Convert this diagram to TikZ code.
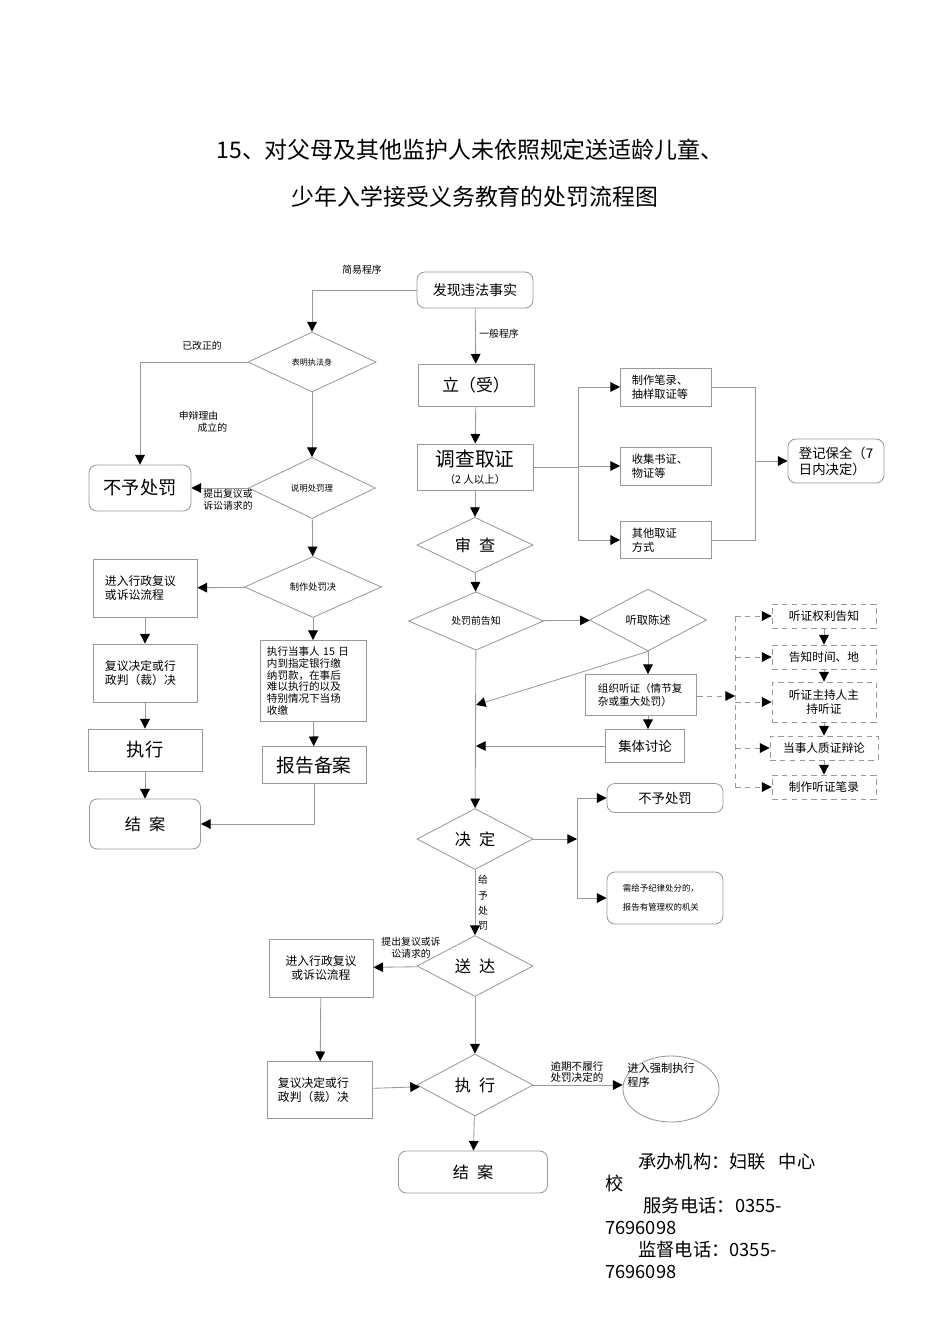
\documentclass[tikz,border=0pt]{standalone}
\usepackage{fontspec}
\setmainfont{Noto Sans CJK SC}
\usetikzlibrary{shapes.geometric,arrows.meta,positioning,calc}

\begin{document}
\begin{tikzpicture}[
    x=0.025cm, y=-0.025cm,
    line/.style={draw=black!40, line width=0.6pt},
    arrow/.style={line, -{Triangle[length=2.4mm, width=2.4mm, color=black]}},
    dasharrow/.style={arrow, dash pattern=on 4pt off 3pt},
    block/.style={line, inner sep=1pt, align=center},
    rblock/.style={block, rounded corners=2mm},
    dblock/.style={block, dash pattern=on 4pt off 3pt, minimum width=2.6cm, minimum height=0.6cm, font=\fontsize{8.3}{10}\selectfont},
    decision/.style={diamond, line, inner sep=0pt, align=center},
    note/.style={inner sep=0pt, align=center, font=\fontsize{7}{8.5}\selectfont},
]
    \useasboundingbox (0,0) rectangle (950,1344);

    % Title
    \node[font=\fontsize{16.3}{20}\selectfont] (title1) at (470,150) {15、对父母及其他监护人未依照规定送适龄儿童、};
    \node[font=\fontsize{16.3}{20}\selectfont] (title2) at (475,197) {少年入学接受义务教育的处罚流程图};

    % Start
    \node[rblock, minimum width=2.9cm, minimum height=0.9cm, font=\fontsize{10}{12}\selectfont] (faxian) at (475,290) {发现违法事实};
    \node[note] (jianyi) at (362,270) {简易程序};
    \node[note] (yiban) at (499,334) {一般程序};

    % General procedure
    \node[block, minimum width=2.9cm, minimum height=1.05cm, font=\fontsize{12}{14}\selectfont] (lian) at (476,385) {立（受）};
    \node[block, minimum width=2.9cm, minimum height=1.15cm, font=\fontsize{14}{15}\selectfont] (diaocha) at (475,467) {调查取证\\[-3pt]{\fontsize{7.5}{9}\selectfont（2 人以上）}};

    % Evidence
    \node[block, align=left, text width=1.7cm, minimum width=2.275cm, minimum height=0.95cm, font=\fontsize{8}{10}\selectfont] (bilu) at (666,387) {制作笔录、\\抽样取证等};
    \node[block, align=left, text width=1.7cm, minimum width=2.275cm, minimum height=0.95cm, font=\fontsize{8}{10}\selectfont] (shuzheng) at (666,466) {收集书证、\\物证等};
    \node[block, align=left, text width=1.7cm, minimum width=2.275cm, minimum height=0.925cm, font=\fontsize{8}{10}\selectfont] (qita) at (666,540) {其他取证\\方式};
    \node[rblock, align=left, text width=1.85cm, minimum width=2.4cm, minimum height=1.1cm, font=\fontsize{9.5}{11.5}\selectfont] (baoquan) at (836,461) {登记保全（7\\日内决定）};

    % Review and notice
    \node[decision, minimum width=2.9cm, minimum height=1.3cm, font=\fontsize{11.5}{13}\selectfont] (shencha) at (475,545) {审\hspace{0.5em}查};
    \node[decision, minimum width=3.375cm, minimum height=1.275cm, font=\fontsize{7}{8.5}\selectfont] (gaozhi) at (476,621) {处罚前告知};
    \node[decision, minimum width=2.925cm, minimum height=1.55cm, font=\fontsize{8}{10}\selectfont] (chenshu) at (648,620) {听取陈述};
    \node[block, align=left, text width=2.15cm, minimum width=2.775cm, minimum height=1.025cm, font=\fontsize{7.5}{8.8}\selectfont] (tingzheng) at (641,695) {组织听证（情节复\\杂或重大处罚）};
    \node[block, minimum width=1.975cm, minimum height=0.825cm, font=\fontsize{9.5}{11}\selectfont] (taolun) at (645,746) {集体讨论};

    % Hearing steps
    \node[dblock] (quanli) at (824,616) {听证权利告知};
    \node[dblock] (shijian) at (824,657) {告知时间、地};
    \node[dblock, minimum height=1cm] (zhuchi) at (824,702) {听证主持人主\\持听证};
    \node[dblock, minimum width=2.7cm] (bianlun) at (824,748) {当事人质证辩论};
    \node[dblock] (zhibilu) at (824,787) {制作听证笔录};

    % Decision
    \node[decision, minimum width=2.9cm, minimum height=1.525cm, font=\fontsize{11.5}{13}\selectfont] (jueding) at (475,839) {决\hspace{0.5em}定};
    \node[rblock, minimum width=2.9cm, minimum height=0.725cm, font=\fontsize{9.5}{11}\selectfont] (buyu2) at (665,798) {不予处罚};
    \node[rblock, align=left, text width=2.1cm, minimum width=2.9cm, minimum height=1.3cm, font=\fontsize{6}{13.5}\selectfont] (jilv) at (665,898) {需给予纪律处分的，\\报告有管理权的机关};
    \node[note, font=\fontsize{7}{11}\selectfont] (geiyu) at (483,903) {给\\予\\处\\罚};

    % Delivery and execution
    \node[decision, minimum width=2.9cm, minimum height=1.525cm, font=\fontsize{11.5}{13}\selectfont] (songda) at (475,966) {送\hspace{0.5em}达};
    \node[block, minimum width=2.6cm, minimum height=1.45cm, font=\fontsize{8.4}{10}\selectfont] (fuyi2) at (321,968) {进入行政复议\\或诉讼流程};
    \node[note] (tichu2) at (411,948) {提出复议或诉\\讼请求的};
    \node[block, align=left, text width=2.1cm, minimum width=2.625cm, minimum height=1.425cm, font=\fontsize{8.4}{10.5}\selectfont] (fuyijd2) at (320,1090) {复议决定或行\\政判（裁）决};
    \node[decision, minimum width=2.9cm, minimum height=1.55cm, font=\fontsize{11.5}{13}\selectfont] (zhixing2) at (475,1085) {执\hspace{0.5em}行};
    \node[note, font=\fontsize{7.5}{8}\selectfont] (yuqi) at (577,1072) {逾期不履行\\处罚决定的};
    \node[ellipse, line, minimum width=2.4cm, minimum height=1.65cm] (qiangzhi) at (671,1089) {};
    \node[inner sep=0pt, anchor=north west, align=left, font=\fontsize{8}{10}\selectfont] (qztext) at (627,1063) {进入强制执行\\程序};
    \node[rblock, minimum width=3.725cm, minimum height=1.05cm, font=\fontsize{11.5}{13}\selectfont] (jiean2) at (473,1172) {结\hspace{0.5em}案};

    % Simple procedure
    \node[decision, minimum width=3.2cm, minimum height=1.5cm, font=\fontsize{5.7}{7}\selectfont] (biaoming) at (312,362) {表明执法身};
    \node[decision, minimum width=3.175cm, minimum height=1.525cm, font=\fontsize{6}{7}\selectfont] (shuoming) at (312,488) {说明处罚理};
    \node[decision, minimum width=3.425cm, minimum height=1.525cm, font=\fontsize{6.6}{8}\selectfont] (zhizuo) at (313,587) {制作处罚决};
    \node[rblock, minimum width=2.55cm, minimum height=1.15cm, font=\fontsize{13}{15}\selectfont] (buyu1) at (140,488) {不予处罚};
    \node[note] (gaizheng) at (202,346) {已改正的};
    \node[note, align=left] (shenbian) at (203,422) {申辩理由\\\hspace*{1.9em}成立的};
    \node[note] (tichu1) at (228,500) {提出复议或\\诉讼请求的};
    \node[block, align=left, text width=2cm, minimum width=2.6cm, minimum height=1.45cm, font=\fontsize{8.4}{10.5}\selectfont] (fuyi1) at (145,588) {进入行政复议\\或诉讼流程};
    \node[block, align=left, text width=2cm, minimum width=2.6cm, minimum height=1.45cm, font=\fontsize{8.4}{10.5}\selectfont] (fuyijd1) at (145,673) {复议决定或行\\政判（裁）决\\ };
    \node[block, minimum width=2.85cm, minimum height=1.05cm, font=\fontsize{13}{15}\selectfont] (zhixing1) at (145,750) {执行};
    \node[rblock, minimum width=2.775cm, minimum height=1.25cm, font=\fontsize{11.5}{13}\selectfont] (jiean1) at (145,824) {结\hspace{0.5em}案};
    \node[block, align=left, text width=2.3cm, minimum width=2.65cm, minimum height=2.025cm, font=\fontsize{7.5}{8.3}\selectfont] (jiaokuan) at (313,681) {执行当事人 15 日\\内到指定银行缴\\纳罚款，在事后\\难以执行的以及\\特别情况下当场\\收缴};
    \node[block, minimum width=2.6cm, minimum height=0.925cm, font=\fontsize{13.3}{15}\selectfont] (beian) at (314,765) {报告备案};

    % Footer
    \node[anchor=north west, align=left, inner sep=0pt, font=\fontsize{13}{15.6}\selectfont] (chengban) at (605,1153) {\hspace*{1.8em}承办机构：妇联\hspace{0.7em}中心\\校\\\hspace*{2.1em}服务电话：0355-\\7696098\\\hspace*{1.8em}监督电话：0355-\\7696098};

    % Coordinates
    \coordinate (fork) at (578,467);
    \coordinate (join) at (755,461);
    \coordinate (merge) at (476,705);
    \coordinate (hear) at (735,696);
    \coordinate (split) at (577,839);

    % Arrows - general procedure
    \draw[arrow] (faxian) -- (lian);
    \draw[arrow] (lian) -- (diaocha);
    \draw[line] (diaocha.east) -- (fork);
    \draw[line] (fork |- bilu) -- (fork |- qita);
    \foreach \n in {bilu,shuzheng,qita} \draw[arrow] (fork |- \n) -- (\n);
    \draw[line] (bilu.east) -| (join |- qita.east) -- (qita.east);
    \draw[arrow] (join) -- (baoquan);
    \draw[arrow] (diaocha) -- (shencha);
    \draw[arrow] (shencha) -- (gaozhi);
    \draw[arrow] (gaozhi) -- (chenshu);
    \draw[arrow] (gaozhi) -- (jueding);
    \draw[arrow] (chenshu.south) -- (chenshu.south |- tingzheng.north);
    \draw[arrow] (chenshu.south |- tingzheng.south) -- (chenshu.south |- taolun.north);
    \draw[arrow] (chenshu.south) -- (merge);
    \draw[arrow] (taolun) -- (taolun -| gaozhi);

    % Arrows - hearing
    \draw[dasharrow] (tingzheng.east |- hear) -- (hear);
    \draw[line, dash pattern=on 4pt off 3pt] (hear |- quanli) -- (hear |- zhibilu);
    \foreach \n in {quanli,shijian,zhuchi,bianlun,zhibilu} \draw[dasharrow] (hear |- \n) -- (\n);
    \draw[arrow] (quanli) -- (shijian);
    \draw[arrow] (shijian) -- (zhuchi);
    \draw[arrow] (zhuchi) -- (bianlun);
    \draw[arrow] (bianlun) -- (zhibilu);

    % Arrows - decision and execution
    \draw[arrow] (jueding) -- (split);
    \draw[line] (split |- buyu2) -- (split |- jilv);
    \draw[arrow] (split |- buyu2) -- (buyu2);
    \draw[arrow] (split |- jilv) -- (jilv);
    \draw[arrow] (jueding) -- (songda);
    \draw[arrow] (songda) -- (fuyi2);
    \draw[arrow] (fuyi2) -- (fuyijd2);
    \draw[arrow] (fuyijd2) -- (zhixing2);
    \draw[arrow] (songda) -- (zhixing2);
    \draw[arrow] (zhixing2.east) -- (zhixing2.east -| qiangzhi.west);
    \draw[arrow] (zhixing2) -- (jiean2);

    % Arrows - simple procedure
    \draw[arrow] (faxian.west) -| (biaoming.north);
    \draw[arrow] (biaoming.west) -| (buyu1.north);
    \draw[arrow] (biaoming) -- (shuoming);
    \draw[arrow] (shuoming) -- (buyu1);
    \draw[arrow] (shuoming) -- (zhizuo);
    \draw[arrow] (zhizuo) -- (fuyi1);
    \draw[arrow] (zhizuo) -- (jiaokuan);
    \draw[arrow] (jiaokuan) -- (beian);
    \draw[arrow] (beian.south) |- (jiean1.east);
    \draw[arrow] (fuyi1) -- (fuyijd1);
    \draw[arrow] (fuyijd1) -- (zhixing1);
    \draw[arrow] (zhixing1) -- (jiean1);
\end{tikzpicture}
\end{document}
